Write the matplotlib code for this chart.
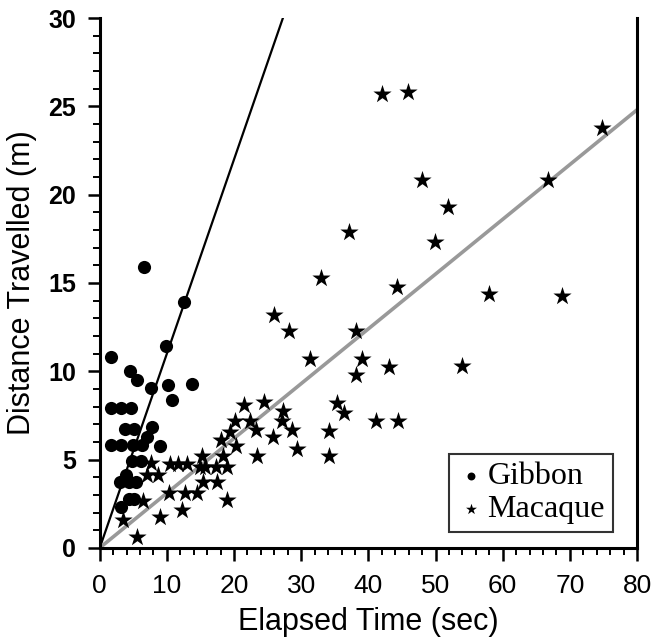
import numpy as np
import matplotlib
matplotlib.use("Agg")
import matplotlib.pyplot as plt
from matplotlib.ticker import MultipleLocator

# gibbon: elapsed time (sec), distance (m)
gibbon_t = [6.6, 12.5, 9.9, 1.7, 4.5, 5.6, 7.6, 10.1, 13.7, 10.8,
            1.6, 3.2, 4.7, 3.8, 5.1, 7.8, 7.05, 1.7, 3.1, 5.0,
            6.35, 9.0, 4.8, 6.2, 3.85, 3.0, 4.3, 5.4, 4.3, 5.1, 3.15]
gibbon_d = [15.9, 13.9, 11.4, 10.8, 10.0, 9.5, 9.05, 9.2, 9.3, 8.35,
            7.9, 7.9, 7.9, 6.75, 6.75, 6.85, 6.3, 5.8, 5.8, 5.8,
            5.8, 5.75, 4.9, 4.9, 4.15, 3.7, 3.7, 3.75, 2.75, 2.75, 2.3]

# macaque
macaque_t = [7.7, 10.4, 11.7, 13.0, 7.05, 8.7, 6.5, 3.4, 8.9, 5.5,
             12.3, 10.3, 12.7, 14.5, 15.3, 17.5, 19.0, 15.2, 15.0, 15.7,
             17.3, 19.0, 18.4, 20.3, 18.1, 19.4, 20.2, 21.5, 24.4, 22.4,
             23.2, 25.8, 23.4, 27.3, 27.1, 28.6, 29.4, 34.2, 34.2, 35.3,
             36.4, 41.1, 44.4, 38.2, 43.1, 54.0, 31.3, 39.1, 28.2, 38.2,
             26.0, 32.9, 44.3, 57.9, 68.9, 37.1, 49.9, 51.9, 48.0, 66.8,
             42.1, 45.9, 74.8]
macaque_d = [4.8, 4.75, 4.75, 4.75, 4.1, 4.15, 2.65, 1.6, 1.75, 0.6,
             2.15, 3.1, 3.1, 3.1, 3.7, 3.7, 2.7, 5.2, 4.6, 4.6,
             4.6, 4.6, 5.2, 5.75, 6.1, 6.55, 7.2, 8.1, 8.25, 7.2,
             6.65, 6.3, 5.2, 7.75, 7.2, 6.65, 5.6, 6.6, 5.2, 8.2,
             7.65, 7.2, 7.2, 9.8, 10.25, 10.3, 10.7, 10.7, 12.25, 12.3,
             13.2, 15.3, 14.75, 14.35, 14.25, 17.9, 17.3, 19.3, 20.8, 20.8,
             25.7, 25.8, 23.8]

# fitted slopes (m/s)
gibbon_slope = 1.1
macaque_slope = 0.31

fig = plt.figure(figsize=(6.52, 6.43), dpi=100)
ax = fig.add_axes([0.153, 0.148, 0.824, 0.824])

# regression lines through origin
tg = np.array([0, 30 / gibbon_slope])
ax.plot(tg, gibbon_slope * tg, color="black", lw=1.6, zorder=2)
tm = np.array([0, 80])
ax.plot(tm, macaque_slope * tm, color="#999999", lw=2.6, zorder=2)

ax.scatter(gibbon_t, gibbon_d, s=90, marker="o", color="black",
           linewidths=0, label="Gibbon", zorder=3)
ax.scatter(macaque_t, macaque_d, s=190, marker="*", color="black",
           linewidths=0, label="Macaque", zorder=3)

ax.set_xlim(0, 80)
ax.set_ylim(0, 30)
ax.xaxis.set_major_locator(MultipleLocator(10))
ax.xaxis.set_minor_locator(MultipleLocator(2))
ax.yaxis.set_major_locator(MultipleLocator(5))
ax.yaxis.set_minor_locator(MultipleLocator(1))

ax.spines["top"].set_visible(False)
for side in ["left", "bottom", "right"]:
    ax.spines[side].set_linewidth(2.2)

ax.tick_params(axis="x", which="major", direction="out", length=9, width=1.8, pad=10)
ax.tick_params(axis="x", which="minor", direction="out", length=5, width=1.4)
ax.tick_params(axis="y", which="major", direction="out", length=9, width=1.8, pad=8)
ax.tick_params(axis="y", which="minor", direction="out", length=5, width=1.4)

for lab in ax.get_xticklabels():
    lab.set_family("Liberation Sans")
    lab.set_fontsize(19)
for lab in ax.get_yticklabels():
    lab.set_family("Liberation Sans")
    lab.set_fontweight("bold")
    lab.set_fontsize(18)

ax.set_xlabel("Elapsed Time (sec)", family="Liberation Sans", fontsize=22, labelpad=6)
ax.set_ylabel("Distance Travelled (m)", family="Liberation Sans", fontsize=22, labelpad=8)

leg = ax.legend(loc="lower right", bbox_to_anchor=(0.955, 0.03),
                prop={"family": "Liberation Serif", "size": 23},
                frameon=True, fancybox=False, edgecolor="black",
                handletextpad=0.05, handlelength=0.9, borderpad=0.25,
                labelspacing=0.1, markerscale=0.6, borderaxespad=0)
leg.get_frame().set_linewidth(1.5)

fig.savefig("out.png", dpi=100)
